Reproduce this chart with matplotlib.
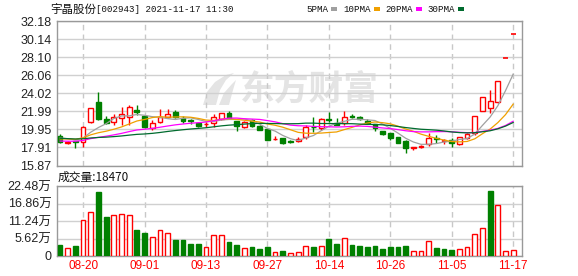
import matplotlib
matplotlib.use("Agg")
import matplotlib.pyplot as plt
from matplotlib.patches import Rectangle, Polygon
import pandas as pd

plt.rcParams['font.family'] = ['Liberation Sans', 'Noto Sans CJK SC']

# ---- data ----
dates = ["08-17", "08-18", "08-19", "08-20", "08-23", "08-24", "08-25", "08-26", "08-27", "08-30",
         "08-31", "09-01", "09-02", "09-03", "09-06", "09-07", "09-08", "09-09", "09-10", "09-13",
         "09-14", "09-15", "09-16", "09-17", "09-22", "09-23", "09-24", "09-27", "09-28", "09-29",
         "09-30", "10-08", "10-11", "10-12", "10-13", "10-14", "10-15", "10-18", "10-19", "10-20",
         "10-21", "10-22", "10-25", "10-26", "10-27", "10-28", "10-29", "11-01", "11-02", "11-03",
         "11-04", "11-05", "11-08", "11-09", "11-10", "11-11", "11-12", "11-15", "11-16", "11-17"]

open_ = [19.21, 18.45, 18.62, 18.50, 20.83, 23.03, 21.14, 20.80, 21.21, 21.40,
         22.08, 21.47, 20.08, 20.83, 21.36, 21.96, 21.21, 20.97, 20.72, 20.52,
         20.65, 21.14, 21.78, 20.94, 20.20, 21.02, 20.34, 19.97, 18.85, 18.95,
         18.60, 18.68, 19.13, 20.27, 20.08, 21.10, 20.65, 20.65, 21.42, 21.33,
         20.94, 20.57, 19.81, 19.52, 19.06, 18.64, 17.82, 17.93, 18.27, 18.92,
         18.66, 18.76, 18.27, 19.02, 19.52, 22.04, 22.35, 23.06, 27.95, 30.75]
high = [19.44, 18.68, 18.65, 20.30, 22.40, 24.16, 21.51, 21.67, 22.46, 22.72,
        22.72, 21.50, 21.02, 22.27, 22.27, 22.15, 21.48, 21.10, 20.83, 20.83,
        21.70, 21.80, 22.04, 20.94, 20.94, 21.10, 20.46, 20.00, 19.21, 18.95,
        18.76, 19.06, 20.46, 21.33, 21.21, 21.89, 21.21, 22.04, 21.70, 21.47,
        21.10, 20.60, 19.81, 19.52, 19.13, 18.70, 17.97, 18.19, 19.52, 19.32,
        18.87, 18.95, 19.10, 19.50, 21.44, 23.59, 24.42, 25.45, 27.95, 30.75]
low = [18.38, 18.27, 17.82, 18.00, 20.65, 20.98, 20.54, 20.46, 20.46, 20.46,
       21.59, 20.08, 19.89, 20.72, 21.21, 21.21, 20.65, 20.57, 20.20, 20.26,
       20.26, 21.02, 21.14, 19.81, 20.08, 20.20, 19.89, 18.70, 18.76, 18.30,
       18.38, 18.53, 18.84, 19.70, 19.89, 20.83, 20.40, 20.46, 21.21, 21.02,
       20.57, 19.81, 19.32, 18.76, 18.38, 17.32, 17.63, 17.82, 18.08, 18.45,
       18.30, 18.00, 18.16, 18.87, 19.32, 22.04, 21.78, 22.91, 27.95, 30.75]
close = [18.50, 18.55, 18.50, 20.26, 22.35, 21.14, 20.72, 21.40, 21.70, 22.42,
         21.89, 20.26, 20.65, 21.33, 21.67, 21.40, 20.94, 20.92, 20.38, 20.56,
         21.40, 21.78, 21.21, 20.38, 20.83, 20.38, 19.89, 18.76, 18.90, 18.38,
         18.55, 18.84, 20.26, 20.24, 21.10, 21.06, 20.46, 21.40, 21.39, 21.14,
         20.72, 20.08, 19.44, 18.95, 18.45, 17.82, 17.97, 18.11, 18.95, 18.88,
         18.70, 18.45, 19.06, 19.44, 21.44, 23.59, 23.17, 25.41, 27.95, 30.75]
# closes before the window, only used for the moving averages
prior_close = [19.8, 19.7, 19.5, 19.6, 19.4, 19.7, 19.6, 19.5, 19.6, 19.3,
               18.9, 18.6, 18.4, 18.2, 18.3, 18.2, 18.4, 18.3, 18.4, 18.2,
               18.6, 18.8, 18.7, 18.9, 18.8, 19.0, 19.2, 19.1, 19.1]
# volume in 万手
volume = [3.4, 2.7, 3.1, 11.7, 14.2, 20.4, 12.4, 13.1, 13.6, 13.1,
          8.2, 7.3, 6.2, 8.5, 7.3, 5.0, 5.0, 3.7, 3.7, 3.0,
          6.6, 6.6, 4.4, 3.4, 2.7, 2.8, 2.1, 2.8, 1.2, 1.5,
          0.9, 1.4, 3.3, 2.8, 3.3, 5.35, 3.7, 5.9, 3.4, 3.1,
          2.8, 3.1, 2.1, 2.8, 2.8, 3.1, 1.7, 1.7, 4.7, 2.5,
          2.1, 1.8, 2.4, 3.0, 7.0, 9.1, 20.8, 16.3, 1.7, 1.847]

x_labels = ["08-20", "09-01", "09-13", "09-27", "10-14", "10-26", "11-05", "11-17"]
price_ticks = [15.87, 17.91, 19.95, 21.99, 24.02, 26.06, 28.10, 30.14, 32.18]
vol_ticks = [0, 5.62, 11.24, 16.86, 22.48]
ma_periods = [5, 10, 20, 30]
ma_names = ["5PMA", "10PMA", "20PMA", "30PMA"]

RED = '#ff0000'
GREEN = '#008000'
MA_COLORS = ['#a0a0a0', '#f0a000', '#ff00ff', '#006b2e']
GRID = '#d0d0d0'
BORDER = '#999999'

W, H = 578, 276
def box(x0, y0, x1, y1):
    return [x0 / W, 1 - y1 / H, (x1 - x0) / W, (y1 - y0) / H]

fig = plt.figure(figsize=(W / 100, H / 100), dpi=100)
ax = fig.add_axes(box(57, 21, 522, 165.5))
axv = fig.add_axes(box(57, 186, 522, 256))

n = len(close)
bw = 0.62
tick_pos = [dates.index(d) for d in x_labels]

# candles
for i in range(n):
    o, h, l, c = open_[i], high[i], low[i], close[i]
    up = c >= o
    col = RED if up else GREEN
    ax.vlines(i, l, h, color=col, lw=1, zorder=3)
    if o == c:
        ax.hlines(c, i - bw / 2, i + bw / 2, color=col, lw=1.2, zorder=4)
    elif up:
        ax.add_patch(Rectangle((i - bw / 2, o), bw, c - o, facecolor='white',
                               edgecolor=col, lw=1, zorder=4))
    else:
        ax.add_patch(Rectangle((i - bw / 2, c), bw, o - c, facecolor=col,
                               edgecolor=col, lw=1, zorder=4))

# moving averages
all_close = pd.Series(prior_close + close)
for p, col in zip(ma_periods, MA_COLORS):
    ma = all_close.rolling(p).mean().iloc[-n:].values
    ax.plot(range(n), ma, color=col, lw=0.9, zorder=5)

# volume, coloured by close vs previous close
for i in range(n):
    ref = close[i - 1] if i > 0 else open_[i]
    up = close[i] > ref
    if up:
        axv.add_patch(Rectangle((i - bw / 2, 0), bw, volume[i], facecolor='white',
                                edgecolor=RED, lw=1, zorder=3))
    else:
        axv.add_patch(Rectangle((i - bw / 2, 0), bw, volume[i], facecolor=GREEN,
                                edgecolor=GREEN, lw=1, zorder=3))

for a in (ax, axv):
    a.set_xlim(-0.4, 60.15)
    a.set_xticks(tick_pos)
    a.grid(axis='x', color='#c8c8c8', lw=1, linestyle=(0, (4, 3)))
    a.grid(axis='y', color=GRID, lw=1)
    for s in a.spines.values():
        s.set_color(BORDER)
        s.set_linewidth(1)
    a.tick_params(length=0, labelsize=9, labelcolor='#222222', pad=4)

ax.set_ylim(price_ticks[0], price_ticks[-1])
ax.set_yticks(price_ticks)
ax.set_yticklabels([f"{t:.2f}" for t in price_ticks])
ax.set_xticklabels([])

axv.set_ylim(0, vol_ticks[-1])
axv.set_yticks(vol_ticks)
axv.set_yticklabels(["0"] + [f"{t:.2f}万" for t in vol_ticks[1:]])
axv.set_xticklabels(x_labels, color=RED, fontsize=8.5)
axv.tick_params(axis='x', pad=3)

# watermark
ax.text(309 / W, 1 - 89 / H, "东方财富", transform=fig.transFigure, ha='center',
        va='center', fontsize=25, fontweight='bold', color='#e4e4e4', zorder=0.5,
        family='Noto Sans CJK SC')
logo = [(203, 105), (207, 92), (215, 82), (226, 75), (234, 73), (226, 80),
        (220, 90), (216, 105)]
logo2 = [(219, 105), (224, 93), (232, 84), (236, 80), (233, 90), (229, 105)]
for pts in (logo, logo2):
    ax.add_patch(Polygon([(x / W, 1 - y / H) for x, y in pts], closed=True,
                         transform=fig.transFigure, facecolor='#e4e4e4',
                         edgecolor='none', zorder=0.5))

# header texts
fig.text(50 / W, 1 - 9 / H, "宇晶股份", va='center', fontsize=8.3,
         color='#111111', family=['Noto Sans CJK SC'])
fig.text(96 / W, 1 - 9 / H, "[002943] 2021-11-17 11:30", va='center',
         fontsize=6.6, color='#111111', family=['Liberation Mono'])
leg_x = [306, 343, 385, 427]
sq_x = [331, 374, 416, 458]
for name, col, tx, sx in zip(ma_names, MA_COLORS, leg_x, sq_x):
    fig.text(tx / W, 1 - 9 / H, name, va='center', fontsize=6.6, color='#111111',
             family=['Liberation Mono'])
    fig.patches.append(Rectangle((sx / W, 1 - 11 / H), 6 / W, 4 / H, facecolor=col,
                                 edgecolor='none', transform=fig.transFigure))

fig.text(58 / W, 1 - 177 / H, f"成交量:{int(round(volume[-1] * 10000))}", va='center',
         fontsize=8.5, color='#111111', family=['Noto Sans CJK SC'])

fig.savefig("out.png", dpi=100)
